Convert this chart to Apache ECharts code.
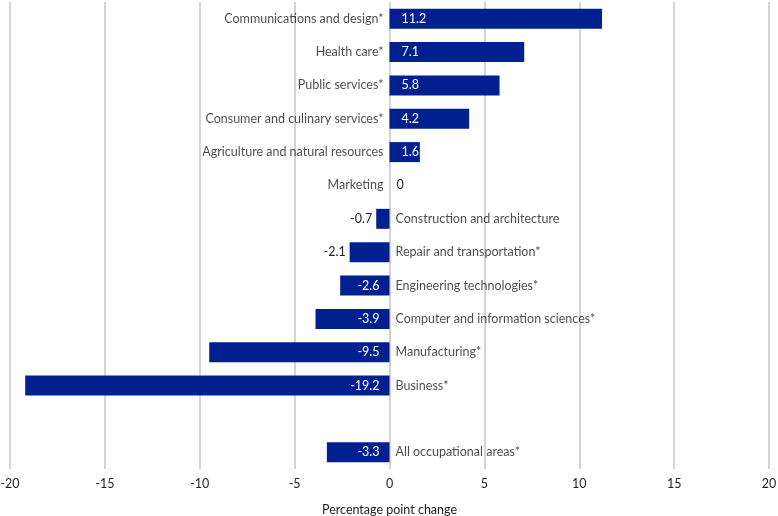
<!DOCTYPE html>
<html><head><meta charset="utf-8">
<script src="https://cdn.jsdelivr.net/npm/echarts@6/dist/echarts.min.js"></script>
<style>html,body{margin:0;padding:0;background:#fff}#c{width:778px;height:516px}</style>
</head><body><div id="c"></div>
<script>
const categories = ['Communications and design*','Health care*','Public services*','Consumer and culinary services*','Agriculture and natural resources','Marketing','Construction and architecture','Repair and transportation*','Engineering technologies*','Computer and information sciences*','Manufacturing*','Business*','','All occupational areas*'];
const values = [11.2,7.1,5.8,4.2,1.6,0,-0.7,-2.1,-2.6,-3.9,-9.5,-19.2,null,-3.3];
const xTicks = [-20,-15,-10,-5,0,5,10,15,20];

const FONT = 'Lato';
const TXT = '#1e1e1e';
const BAR = '#00208f';

const barData = values.map(v => {
  if (v === null) return '-';
  let label;
  if (v > 0) label = {position:'insideLeft', distance:12, color:'#fff'};
  else if (v <= -2.5) label = {position:'insideRight', distance:10, color:'#fff'};
  else if (v < 0) label = {position:'left', distance:4, color:TXT};
  else label = {position:'right', distance:7, color:TXT};
  return {value: v, label: label};
});
const nameData = categories.map((c, i) => {
  if (values[i] === null) return null;
  return {value:[0, i], label:{position: values[i] >= 0 ? 'left' : 'right', distance: 6}};
}).filter(d => d);

const chart = echarts.init(document.getElementById('c'));
chart.setOption({
  animation:false,
  grid:{left:10, right:9, top:2, bottom:47, containLabel:false, outerBoundsMode:'none'},
  xAxis:{type:'value', min:-20, max:20, interval:5,
    axisLine:{show:false}, axisTick:{show:false},
    splitLine:{show:true, lineStyle:{color:'#c8c8c8', width:1.6}},
    axisLabel:{color:TXT, fontFamily:FONT, fontSize:12.5, margin:8,
      formatter: v => xTicks.includes(v) ? String(v) : ''},
    name:'Percentage point change', nameLocation:'middle', nameGap:34,
    nameTextStyle:{color:TXT, fontFamily:FONT, fontSize:12.5}},
  yAxis:{type:'category', data:categories, inverse:true,
    axisLine:{show:false}, axisTick:{show:false}, axisLabel:{show:false}, splitLine:{show:false}},
  series:[
    {type:'bar', data:barData, barWidth:20, itemStyle:{color:BAR},
      label:{show:true, fontFamily:FONT, fontSize:12.5, formatter: p => String(p.value)}},
    {type:'scatter', data:nameData, symbolSize:0, silent:true,
      label:{show:true, color:TXT, fontFamily:FONT, fontSize:12.5,
        formatter: p => categories[p.value[1]]}}
  ]
});
</script></body></html>
